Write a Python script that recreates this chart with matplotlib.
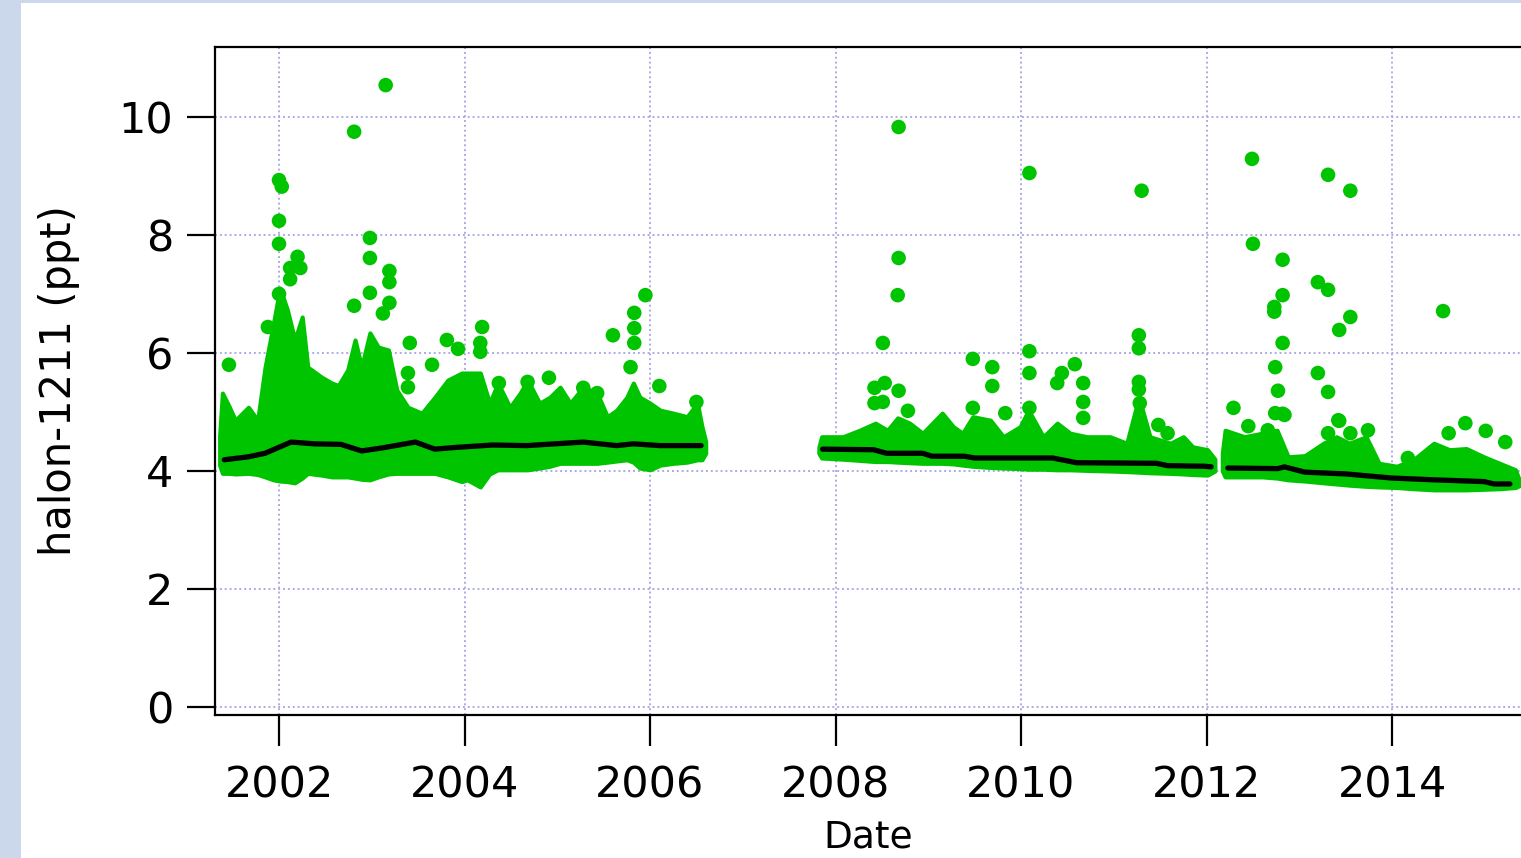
import matplotlib
matplotlib.use("Agg")
import matplotlib.pyplot as plt
from matplotlib.patches import Rectangle

# --- data (decimal years, ppt) ---
# dense cloud envelopes, one per measurement period
s1_x = [2001.36, 2001.39, 2001.46, 2001.53, 2001.67, 2001.77, 2001.85, 2001.94, 2002.01, 2002.09,
        2002.17, 2002.25, 2002.31, 2002.46, 2002.57, 2002.64, 2002.74, 2002.82, 2002.89, 2002.98,
        2003.07, 2003.18, 2003.27, 2003.39, 2003.54, 2003.68, 2003.82, 2003.97, 2004.03, 2004.17,
        2004.27, 2004.36, 2004.49, 2004.60, 2004.68, 2004.81, 2004.92, 2005.03, 2005.14, 2005.28,
        2005.43, 2005.54, 2005.64, 2005.75, 2005.82, 2005.89, 2006.00, 2006.11, 2006.25, 2006.40,
        2006.51, 2006.56, 2006.60]
s1_upper = [4.6, 5.32, 5.1, 4.86, 5.08, 4.86, 5.76, 6.5, 7.1, 6.73,
            6.22, 6.61, 5.76, 5.59, 5.49, 5.45, 5.71, 6.22, 5.76, 6.34,
            6.1, 6.05, 5.37, 5.08, 4.98, 5.25, 5.54, 5.66, 5.66, 5.66,
            5.15, 5.49, 5.08, 5.32, 5.54, 5.15, 5.25, 5.42, 5.15, 5.42,
            5.32, 4.92, 5.03, 5.25, 5.49, 5.25, 5.15, 5.03, 4.98, 4.92,
            5.15, 4.75, 4.5]
s1_lower = [4.1, 3.96, 3.96, 3.95, 3.96, 3.94, 3.9, 3.85, 3.83, 3.82,
            3.8, 3.88, 3.96, 3.93, 3.9, 3.9, 3.9, 3.88, 3.86, 3.85,
            3.9, 3.95, 3.96, 3.96, 3.96, 3.96, 3.9, 3.82, 3.85, 3.73,
            3.95, 4.02, 4.02, 4.02, 4.02, 4.05, 4.08, 4.13, 4.13, 4.13,
            4.13, 4.15, 4.17, 4.19, 4.15, 4.05, 4.02, 4.1, 4.13, 4.15,
            4.19, 4.19, 4.3]

s2_x = [2007.82, 2007.85, 2008.08, 2008.26, 2008.43, 2008.56, 2008.67, 2008.80, 2008.94, 2009.15,
        2009.27, 2009.37, 2009.48, 2009.67, 2009.81, 2009.99, 2010.08, 2010.24, 2010.39, 2010.53,
        2010.71, 2010.96, 2011.14, 2011.27, 2011.39, 2011.61, 2011.75, 2011.85, 2012.01, 2012.09]
s2_upper = [4.4, 4.58, 4.58, 4.69, 4.81, 4.69, 4.9, 4.81, 4.64, 4.98,
            4.75, 4.64, 4.92, 4.86, 4.58, 4.75, 5.03, 4.58, 4.81, 4.64,
            4.58, 4.58, 4.47, 5.25, 4.58, 4.47, 4.58, 4.41, 4.36, 4.2]
s2_lower = [4.3, 4.22, 4.2, 4.18, 4.16, 4.16, 4.15, 4.14, 4.13, 4.13,
            4.12, 4.1, 4.08, 4.06, 4.05, 4.04, 4.03, 4.03, 4.02, 4.02,
            4.01, 4.0, 3.99, 3.98, 3.97, 3.96, 3.95, 3.94, 3.93, 4.0]

s3_x = [2012.17, 2012.20, 2012.41, 2012.60, 2012.76, 2012.88, 2013.06, 2013.26, 2013.40, 2013.54,
        2013.72, 2013.86, 2014.05, 2014.23, 2014.45, 2014.62, 2014.80, 2014.99, 2015.16, 2015.33,
        2015.37]
s3_upper = [4.3, 4.69, 4.58, 4.64, 4.69, 4.24, 4.26, 4.47, 4.58, 4.47,
            4.58, 4.13, 4.08, 4.19, 4.47, 4.36, 4.38, 4.24, 4.13, 4.02,
            3.85]
s3_lower = [4.0, 3.9, 3.9, 3.9, 3.88, 3.85, 3.83, 3.8, 3.78, 3.76,
            3.74, 3.73, 3.72, 3.7, 3.68, 3.68, 3.68, 3.69, 3.7, 3.72,
            3.75]

# isolated samples above the cloud
out_x = [2003.15, 2002.81, 2002.00, 2002.03, 2002.00, 2002.00, 2002.20, 2002.12, 2002.23, 2002.12,
         2002.00, 2002.98, 2002.98, 2003.19, 2003.19, 2003.19, 2003.12, 2002.98, 2002.81, 2001.88,
         2001.46, 2003.41, 2003.81, 2003.93, 2004.19, 2004.17, 2004.17, 2003.39, 2003.39, 2003.65,
         2005.60, 2005.95, 2005.83, 2005.83, 2005.83, 2005.79, 2006.10, 2004.91, 2005.28, 2005.43,
         2006.50, 2004.68, 2004.37,
         2008.68, 2010.09, 2008.68, 2008.67, 2008.51, 2010.09, 2009.48, 2009.69, 2009.69, 2010.09,
         2010.58, 2010.44, 2010.39, 2010.67, 2010.67, 2010.67, 2009.83, 2010.09, 2009.48, 2008.42,
         2008.53, 2008.42, 2008.51, 2008.68, 2008.78,
         2011.30, 2011.27, 2011.27, 2011.27, 2011.27, 2011.28, 2011.48, 2011.58,
         2012.49, 2012.50, 2012.82, 2012.82, 2012.73, 2012.73, 2012.82, 2012.74, 2012.77, 2012.74,
         2012.82, 2013.31, 2013.55, 2013.20, 2013.31, 2013.55, 2013.43, 2013.20, 2013.31, 2012.29,
         2012.45, 2013.43, 2014.55, 2014.79, 2014.61, 2015.01, 2015.22, 2014.17, 2012.66, 2012.84,
         2013.42, 2013.31, 2013.55, 2013.74]
out_y = [10.54, 9.75, 8.93, 8.82, 8.24, 7.85, 7.63, 7.44, 7.44, 7.25,
         7.00, 7.95, 7.61, 7.39, 7.20, 6.85, 6.67, 7.02, 6.80, 6.44,
         5.80, 6.17, 6.22, 6.07, 6.44, 6.17, 6.02, 5.66, 5.42, 5.80,
         6.30, 6.98, 6.68, 6.42, 6.17, 5.76, 5.44, 5.58, 5.41, 5.32,
         5.17, 5.51, 5.49,
         9.83, 9.05, 7.61, 6.98, 6.17, 6.03, 5.90, 5.76, 5.44, 5.66,
         5.81, 5.66, 5.49, 5.49, 5.17, 4.90, 4.98, 5.07, 5.07, 5.41,
         5.49, 5.15, 5.17, 5.36, 5.02,
         8.75, 6.30, 6.08, 5.51, 5.38, 5.15, 4.78, 4.64,
         9.29, 7.85, 7.58, 6.98, 6.78, 6.70, 6.17, 5.76, 5.36, 4.98,
         4.97, 9.02, 8.75, 7.20, 7.07, 6.61, 6.39, 5.66, 5.34, 5.07,
         4.76, 4.85, 6.71, 4.81, 4.64, 4.68, 4.49, 4.22, 4.69, 4.95,
         4.86, 4.64, 4.64, 4.69]

# smoothed baseline (black line)
t1_x = [2001.41, 2001.67, 2001.85, 2002.13, 2002.38, 2002.67, 2002.89, 2003.11, 2003.47, 2003.68,
        2003.91, 2004.30, 2004.67, 2005.28, 2005.64, 2005.82, 2006.11, 2006.55]
t1_y = [4.19, 4.24, 4.30, 4.49, 4.46, 4.45, 4.34, 4.39, 4.49, 4.37,
        4.40, 4.44, 4.43, 4.49, 4.43, 4.46, 4.43, 4.43]
t2_x = [2007.86, 2008.41, 2008.55, 2008.94, 2009.04, 2009.39, 2009.50, 2010.34, 2010.60, 2011.46,
        2011.58, 2011.98, 2012.05]
t2_y = [4.37, 4.36, 4.30, 4.30, 4.25, 4.25, 4.22, 4.22, 4.14, 4.13,
        4.09, 4.08, 4.07]
t3_x = [2012.23, 2012.77, 2012.84, 2013.06, 2013.50, 2014.00, 2014.45, 2014.99, 2015.10, 2015.27]
t3_y = [4.05, 4.04, 4.07, 3.98, 3.95, 3.88, 3.85, 3.82, 3.78, 3.78]

year_ticks = [2002, 2004, 2006, 2008, 2010, 2012, 2014]
y_ticks = [0, 2, 4, 6, 8, 10]

GREEN = "#00c400"
GRID = "#ababe3"

plt.rcParams["font.family"] = ["DejaVu Sans"]

fig = plt.figure(figsize=(15.21, 8.58), dpi=100)
fig.patch.set_facecolor("#cbd8ec")
fig.patches.append(Rectangle((21 / 1521, 0), 1, 855 / 858, transform=fig.transFigure,
                             facecolor="white", edgecolor="none", zorder=-10))

ax = fig.add_axes([215 / 1521, 143 / 858, 1306 / 1521, 668 / 858])
ax.set_facecolor("none")

for xs, lo, hi in [(s1_x, s1_lower, s1_upper), (s2_x, s2_lower, s2_upper), (s3_x, s3_lower, s3_upper)]:
    ax.fill_between(xs, lo, hi, facecolor=GREEN, edgecolor=GREEN, linewidth=3,
                    joinstyle="round", zorder=3)
ax.scatter(out_x, out_y, s=110, color=GREEN, edgecolors="none", zorder=3)
for xs, ys in [(t1_x, t1_y), (t2_x, t2_y), (t3_x, t3_y)]:
    ax.plot(xs, ys, color="black", linewidth=3.8, solid_capstyle="round",
            solid_joinstyle="round", zorder=4)

ax.set_xlim(2001.31, 2015.39)
ax.set_ylim(-0.136, 11.186)
ax.set_xticks(year_ticks)
ax.set_xticklabels([str(y) for y in year_ticks])
ax.set_yticks(y_ticks)

ax.grid(True, color=GRID, linestyle=(0, (1, 1.5)), linewidth=1.4, zorder=0)
ax.set_axisbelow(True)

ax.spines["right"].set_visible(False)
for side in ["left", "top", "bottom"]:
    ax.spines[side].set_linewidth(1.6)

ax.tick_params(axis="y", direction="out", length=20, width=1.6, pad=10, labelsize=31)
ax.tick_params(axis="x", direction="out", length=22, width=1.6, pad=14, labelsize=31)

ax.set_ylabel("halon-1211 (ppt)", fontsize=30, labelpad=28)
ax.set_xlabel("Date", fontsize=27, labelpad=9)

fig.savefig("out.png", dpi=100)
